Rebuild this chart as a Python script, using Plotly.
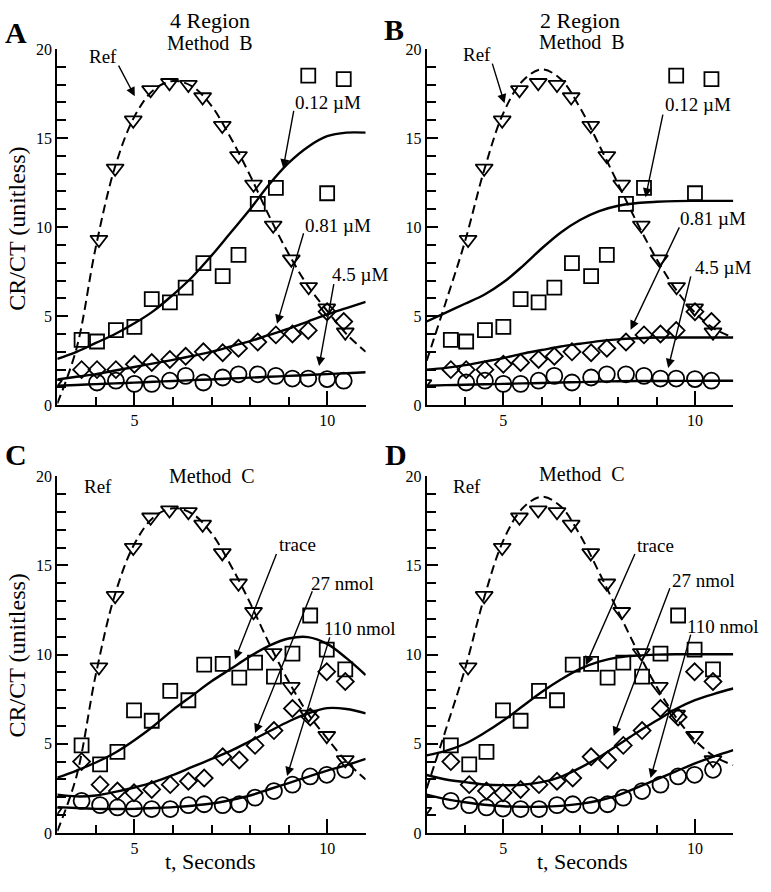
import plotly.graph_objects as go

# ---------------- data ----------------
# Reference (inverted triangles), shared by all panels
ref_t = [2.9, 4.08, 4.5, 4.97, 5.42, 5.91, 6.4, 6.77, 7.28, 7.7, 8.09, 8.6, 9.07, 9.52, 9.99, 10.47]
ref_y = [1.2, 9.3, 13.3, 16.0, 17.7, 18.1, 18.0, 17.3, 15.7, 14.0, 12.4, 10.1, 8.2, 6.65, 5.45, 4.1]

# Panels A/B data (uM)
tAB = [3.63, 4.03, 4.52, 5.0, 5.45, 5.92, 6.33, 6.79, 7.29, 7.7, 8.2, 8.67, 9.1, 9.51, 10.0, 10.43]
sqAB_t = [3.63, 4.03, 4.52, 5.0, 5.45, 5.92, 6.33, 6.79, 7.29, 7.7, 8.2, 8.67, 9.51, 10.0, 10.43]
sqAB_y = [3.67, 3.58, 4.22, 4.4, 5.96, 5.78, 6.6, 7.98, 7.25, 8.44, 11.3, 12.2, 18.5, 11.9, 18.3]
dmAB_y = [2.0, 2.0, 2.0, 2.3, 2.4, 2.57, 2.75, 3.0, 2.95, 3.2, 3.55, 3.95, 4.0, 4.2, 5.25, 4.7]
ciAB_t = [4.03, 4.52, 5.0, 5.45, 5.92, 6.33, 6.79, 7.29, 7.7, 8.2, 8.67, 9.1, 9.51, 10.0, 10.43]
ciAB_y = [1.28, 1.38, 1.2, 1.2, 1.38, 1.65, 1.28, 1.56, 1.74, 1.74, 1.65, 1.5, 1.5, 1.47, 1.38]

# Panels C/D data (nmol)
tCD = [3.63, 4.11, 4.56, 4.99, 5.45, 5.93, 6.4, 6.81, 7.29, 7.72, 8.13, 8.62, 9.1, 9.56, 9.99, 10.47]
sqCD_y = [4.91, 3.85, 4.55, 6.87, 6.29, 7.97, 7.44, 9.44, 9.48, 8.71, 9.55, 8.76, 10.05, 12.19, 10.28, 9.17]
dmCD_y = [4.0, 2.71, 2.35, 2.25, 2.44, 2.71, 2.9, 3.08, 4.27, 4.09, 4.91, 5.74, 6.98, 6.5, 9.04, 8.49]
ciCD_y = [1.8, 1.56, 1.43, 1.37, 1.34, 1.34, 1.56, 1.61, 1.56, 1.61, 1.98, 2.35, 2.71, 3.17, 3.26, 3.54]

# Fitted curves
fit_t = [3.0, 3.5, 4.0, 4.5, 5.0, 5.5, 6.0, 6.5, 7.0, 7.5, 8.0, 8.5, 9.0, 9.5, 10.0, 10.5, 11.0]
refA_fit = [0.1, 3.2, 8.9, 13.4, 16.2, 17.7, 18.2, 17.9, 16.8, 15.0, 12.9, 10.6, 8.5, 6.7, 5.3, 4.0, 3.0]
refB_fit = [2.5, 5.8, 9.2, 13.2, 16.4, 18.2, 18.85, 18.3, 16.7, 14.6, 12.4, 10.2, 8.2, 6.5, 5.2, 4.3, 3.8]

A_012 = [2.6, 3.0, 3.5, 4.0, 4.6, 5.3, 6.2, 7.2, 8.4, 9.7, 11.0, 12.4, 13.6, 14.5, 15.1, 15.3, 15.3]
A_081 = [1.45, 1.6, 1.75, 1.95, 2.15, 2.35, 2.55, 2.77, 3.0, 3.3, 3.6, 3.95, 4.3, 4.7, 5.1, 5.45, 5.8]
A_45 = [1.1, 1.14, 1.19, 1.23, 1.27, 1.32, 1.36, 1.41, 1.45, 1.5, 1.55, 1.6, 1.65, 1.7, 1.75, 1.8, 1.85]

B_012 = [4.7, 5.2, 5.7, 6.2, 6.9, 7.8, 8.8, 9.7, 10.4, 10.9, 11.2, 11.35, 11.42, 11.46, 11.47, 11.47, 11.47]
B_081 = [2.0, 2.1, 2.25, 2.45, 2.65, 2.9, 3.1, 3.3, 3.45, 3.6, 3.7, 3.76, 3.8, 3.8, 3.8, 3.8, 3.8]
B_45 = [1.1, 1.13, 1.15, 1.18, 1.2, 1.23, 1.25, 1.28, 1.3, 1.33, 1.35, 1.36, 1.36, 1.37, 1.37, 1.38, 1.38]

C_trace = [3.1, 3.5, 3.95, 4.5, 5.2, 6.0, 6.9, 7.7, 8.5, 9.2, 9.9, 10.5, 10.9, 10.98, 10.6, 9.8, 8.85]
C_27 = [2.15, 2.05, 2.1, 2.3, 2.55, 2.85, 3.25, 3.7, 4.15, 4.6, 5.15, 5.7, 6.25, 6.7, 7.0, 6.95, 6.7]
C_110 = [1.45, 1.4, 1.35, 1.34, 1.35, 1.4, 1.45, 1.53, 1.65, 1.85, 2.1, 2.45, 2.8, 3.15, 3.5, 3.8, 4.15]

D_trace = [4.35, 4.6, 5.0, 5.6, 6.3, 7.1, 7.9, 8.6, 9.2, 9.6, 9.85, 9.95, 10.0, 10.02, 10.02, 10.02, 10.02]
D_27 = [3.25, 3.0, 2.85, 2.72, 2.68, 2.7, 2.85, 3.15, 3.65, 4.25, 4.95, 5.65, 6.3, 6.95, 7.45, 7.8, 8.1]
D_110 = [2.15, 1.9, 1.72, 1.58, 1.5, 1.47, 1.47, 1.52, 1.63, 1.82, 2.12, 2.55, 3.0, 3.45, 3.9, 4.3, 4.65]

# ---------------- figure ----------------
FONT = "Liberation Serif"
fig = go.Figure()

panels = {
    "A": dict(xa="x", ya="y", sq_t=sqAB_t, sq_y=sqAB_y, dm_t=tAB, dm_y=dmAB_y, ci_t=ciAB_t, ci_y=ciAB_y,
              ref_fit=refA_fit, fits=[A_012, A_081, A_45]),
    "B": dict(xa="x2", ya="y2", sq_t=sqAB_t, sq_y=sqAB_y, dm_t=tAB, dm_y=dmAB_y, ci_t=ciAB_t, ci_y=ciAB_y,
              ref_fit=refB_fit, fits=[B_012, B_081, B_45]),
    "C": dict(xa="x3", ya="y3", sq_t=tCD, sq_y=sqCD_y, dm_t=tCD, dm_y=dmCD_y, ci_t=tCD, ci_y=ciCD_y,
              ref_fit=refA_fit, fits=[C_trace, C_27, C_110]),
    "D": dict(xa="x4", ya="y4", sq_t=tCD, sq_y=sqCD_y, dm_t=tCD, dm_y=dmCD_y, ci_t=tCD, ci_y=ciCD_y,
              ref_fit=refB_fit, fits=[D_trace, D_27, D_110]),
}

mline = dict(color="black", width=1.8)
for key, p in panels.items():
    xa, ya = p["xa"], p["ya"]
    fig.add_trace(go.Scatter(x=fit_t, y=p["ref_fit"], mode="lines", xaxis=xa, yaxis=ya,
                             line=dict(color="black", width=2, dash="9px,5px", shape="spline")))
    for f in p["fits"]:
        fig.add_trace(go.Scatter(x=fit_t, y=f, mode="lines", xaxis=xa, yaxis=ya,
                                 line=dict(color="black", width=2.4, shape="spline")))
    fig.add_trace(go.Scatter(x=ref_t, y=ref_y, mode="markers", xaxis=xa, yaxis=ya,
                             marker=dict(symbol="triangle-down-open", size=15, color="black", line=mline)))
    fig.add_trace(go.Scatter(x=p["sq_t"], y=p["sq_y"], mode="markers", xaxis=xa, yaxis=ya,
                             marker=dict(symbol="square-open", size=14, color="black", line=mline)))
    fig.add_trace(go.Scatter(x=p["dm_t"], y=p["dm_y"], mode="markers", xaxis=xa, yaxis=ya,
                             marker=dict(symbol="diamond-open", size=13, color="black", line=mline)))
    fig.add_trace(go.Scatter(x=p["ci_t"], y=p["ci_y"], mode="markers", xaxis=xa, yaxis=ya,
                             marker=dict(symbol="circle-open", size=16, color="black", line=mline)))

W, H = 771, 892
def xdom(l, r):
    return [l / W, r / W]
def ydom(top, bot):
    return [1 - bot / H, 1 - top / H]

xcommon = dict(range=[3, 11], showline=True, linecolor="black", linewidth=2, showgrid=False, zeroline=False,
               tickvals=[5, 10], ticks="inside", ticklen=14, tickwidth=1.5, tickcolor="black",
               tickfont=dict(family=FONT, size=16, color="black"),
               minor=dict(ticks="inside", ticklen=8, tickwidth=1.5, tickcolor="black", dtick=1, tick0=3, showgrid=False))
ycommon = dict(range=[0, 20], showline=True, linecolor="black", linewidth=2, showgrid=False, zeroline=False,
               tickvals=[0, 5, 10, 15, 20], ticks="inside", ticklen=11, tickwidth=1.5, tickcolor="black",
               tickfont=dict(family=FONT, size=16, color="black"),
               minor=dict(ticks="inside", ticklen=9, tickwidth=1.5, tickcolor="black", dtick=1, showgrid=False))

left_x = xdom(57.3, 365.7)
right_x = xdom(426.7, 733.3)
top_y = ydom(41.7, 405)
bot_y = ydom(477.3, 841)

fig.update_layout(
    width=W, height=H, margin=dict(l=0, r=0, t=0, b=0),
    paper_bgcolor="white", plot_bgcolor="white", showlegend=False,
    font=dict(family=FONT, color="black"),
    xaxis=dict(domain=left_x, anchor="y", **xcommon),
    yaxis=dict(domain=top_y, anchor="x", **ycommon),
    xaxis2=dict(domain=right_x, anchor="y2", **xcommon),
    yaxis2=dict(domain=top_y, anchor="x2", **ycommon),
    xaxis3=dict(domain=left_x, anchor="y3", **xcommon),
    yaxis3=dict(domain=bot_y, anchor="x3", **ycommon),
    xaxis4=dict(domain=right_x, anchor="y4", **xcommon),
    yaxis4=dict(domain=bot_y, anchor="x4", **ycommon),
)

ann = []
def ptext(txt, x, y, size, bold=False, angle=0):
    ann.append(dict(text=("<b>%s</b>" % txt) if bold else txt, x=x / W, y=1 - y / H, xref="paper", yref="paper",
                    showarrow=False, xanchor="center", yanchor="middle", textangle=angle,
                    font=dict(family=FONT, size=size, color="black")))

def dtext(txt, xa, ya, x, y, size=19):
    ann.append(dict(text=txt, x=x, y=y, xref=xa, yref=ya, showarrow=False, xanchor="center", yanchor="middle",
                    font=dict(family=FONT, size=size, color="black")))

def arrow(xa, ya, x0, y0, x1, y1):
    ann.append(dict(text="", x=x1, y=y1, ax=x0, ay=y0, xref=xa, yref=ya, axref=xa, ayref=ya,
                    showarrow=True, arrowhead=2, arrowsize=1.3, arrowwidth=1.4, arrowcolor="black", standoff=0))

# panel letters and titles
ptext("A", 16, 25, 30, bold=True)
ptext("B", 394, 22, 30, bold=True)
ptext("C", 16, 455, 30, bold=True)
ptext("D", 396, 455, 30, bold=True)
ptext("4 Region", 210, 13, 22)
ptext("Method  B", 210, 36, 20)
ptext("2 Region", 580, 13, 22)
ptext("Method  B", 582, 35, 20)
ptext("Method  C", 212, 477, 20)
ptext("Method  C", 582, 475, 20)
ptext("CR/CT (unitless)", 17, 225, 24, angle=-90)
ptext("CR/CT (unitless)", 17, 660, 24, angle=-90)
ptext("t, Seconds", 210, 870, 22)
ptext("t, Seconds", 582, 870, 22)

# Panel A labels
dtext("Ref", "x", "y", 4.19, 19.6)
arrow("x", "y", 4.57, 19.15, 5.01, 17.34)
dtext("0.12 µM", "x", "y", 10.02, 17.0)
arrow("x", "y", 9.14, 16.6, 8.86, 13.3)
dtext("0.81 µM", "x", "y", 10.28, 10.07)
arrow("x", "y", 9.4, 9.74, 8.7, 4.57)
dtext("4.5 µM", "x", "y", 10.85, 7.32)
arrow("x", "y", 10.18, 6.88, 9.79, 2.2)

# Panel B labels
dtext("Ref", "x2", "y2", 4.3, 19.7)
arrow("x2", "y2", 4.70, 19.26, 5.03, 16.95)
dtext("0.12 µM", "x2", "y2", 10.08, 16.9)
arrow("x2", "y2", 9.17, 16.4, 8.71, 11.67)
dtext("0.81 µM", "x2", "y2", 10.47, 10.46)
arrow("x2", "y2", 9.61, 10.07, 8.32, 4.24)
dtext("4.5 µM", "x2", "y2", 10.73, 7.76)
arrow("x2", "y2", 9.9, 7.32, 9.3, 2.09)

# Panel C labels
dtext("Ref", "x3", "y3", 4.06, 19.4)
dtext("trace", "x3", "y3", 9.22, 16.16)
arrow("x3", "y3", 8.7, 15.72, 7.61, 9.73)
dtext("27 nmol", "x3", "y3", 10.41, 13.96)
arrow("x3", "y3", 9.63, 13.63, 8.13, 5.61)
dtext("110 nmol", "x3", "y3", 10.85, 11.49)
arrow("x3", "y3", 10.08, 11.05, 8.96, 3.19)

# Panel D labels
dtext("Ref", "x4", "y4", 4.04, 19.4)
dtext("trace", "x4", "y4", 8.97, 16.1)
arrow("x4", "y4", 8.45, 15.72, 7.15, 9.4)
dtext("27 nmol", "x4", "y4", 10.21, 14.18)
arrow("x4", "y4", 9.36, 13.8, 7.88, 5.44)
dtext("110 nmol", "x4", "y4", 10.74, 11.6)
arrow("x4", "y4", 9.9, 11.2, 8.84, 3.08)

fig.update_layout(annotations=ann)
fig.write_html("out.html", config={"displayModeBar": False},
               post_script="document.body.style.margin='0';document.body.style.padding='0';")
